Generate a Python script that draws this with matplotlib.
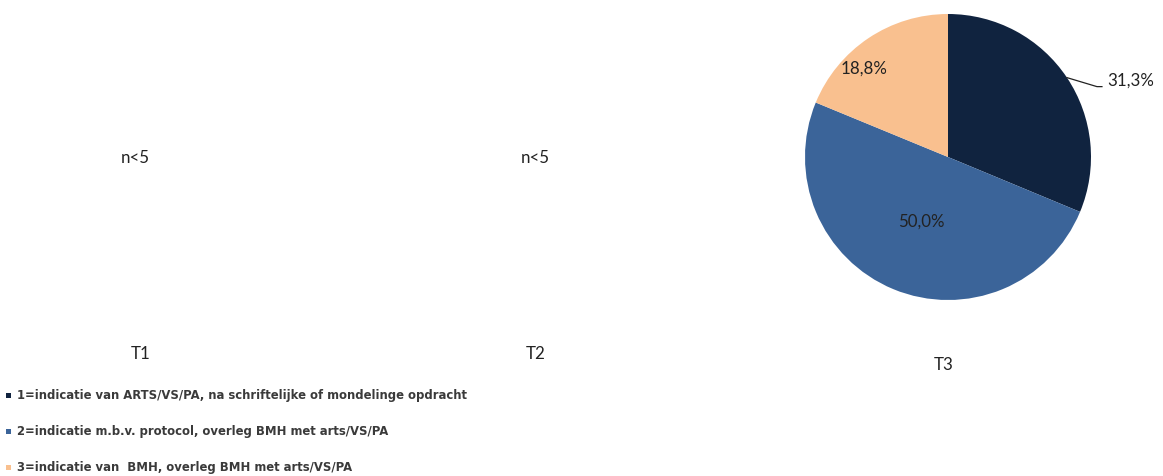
import numpy as np
import matplotlib; matplotlib.use("Agg")
import matplotlib.pyplot as plt

# T3 verdeling indicatie (T1/T2: n<5, niet getoond)
categories = ["1=indicatie van ARTS/VS/PA, na schriftelijke of mondelinge opdracht",
              "2=indicatie m.b.v. protocol, overleg BMH met arts/VS/PA",
              "3=indicatie van  BMH, overleg BMH met arts/VS/PA"]
t3_values = [31.3, 50.0, 18.8]
panels = ["T1", "T2", "T3"]
empty_note = "n<5"
colors = ["#10233f", "#3b6499", "#f9c08f"]

W, H = 1163, 476
fig = plt.figure(figsize=(W/100, H/100), dpi=100)
ax = fig.add_axes([0, 0, 1, 1])

lab = dict(family=["Lato", "DejaVu Sans"], fontsize=12.2, color="#222222", ha="center", va="center")

# pie T3
cx, cy, r = 948, H-157, 143
wedges, _ = ax.pie(t3_values, colors=colors, startangle=90, counterclock=False,
                   center=(cx, cy), radius=r, frame=True)
ax.set_xlim(0, W); ax.set_ylim(0, H); ax.set_aspect("equal"); ax.axis("off")

# empty panels T1, T2
for x in [135, 535]:
    ax.text(x, H-158, empty_note, **lab)
for x, name in [(141, panels[0]), (536, panels[1])]:
    ax.text(x, H-354, name, **lab)
ax.text(944, H-365, panels[2], **lab)

def pct(v): return f"{v:.1f}%".replace(".", ",")
# inside labels
for w, v, d, off in zip(wedges[1:], t3_values[1:], [0.49, 0.855], [0, 0.17]):
    a = np.deg2rad((w.theta1 + w.theta2) / 2) + off
    ax.text(cx + d*r*np.cos(a), cy + d*r*np.sin(a), pct(v), **lab)
# outside label with leader line
w = wedges[0]
a = np.deg2rad((w.theta1 + w.theta2) / 2)
x0, y0 = cx + r*np.cos(a), cy + r*np.sin(a)
ax.plot([x0, x0+30, x0+35], [y0, y0-9, y0-9], color="#222222", lw=0.9)
ax.text(x0+40, y0-3, pct(t3_values[0]), **{**lab, "ha": "left"})

# legend
for i, (c, t) in enumerate(zip(colors, categories)):
    y = H - (395 + 36*i)
    ax.add_patch(plt.Rectangle((6, y-2.5), 5, 5, color=c, lw=0))
    ax.text(17, y, t, family=["DejaVu Sans"], fontweight="bold",
            fontsize=8.4, color="#3a3a3a", ha="left", va="center")

fig.savefig("out.png", dpi=100)
